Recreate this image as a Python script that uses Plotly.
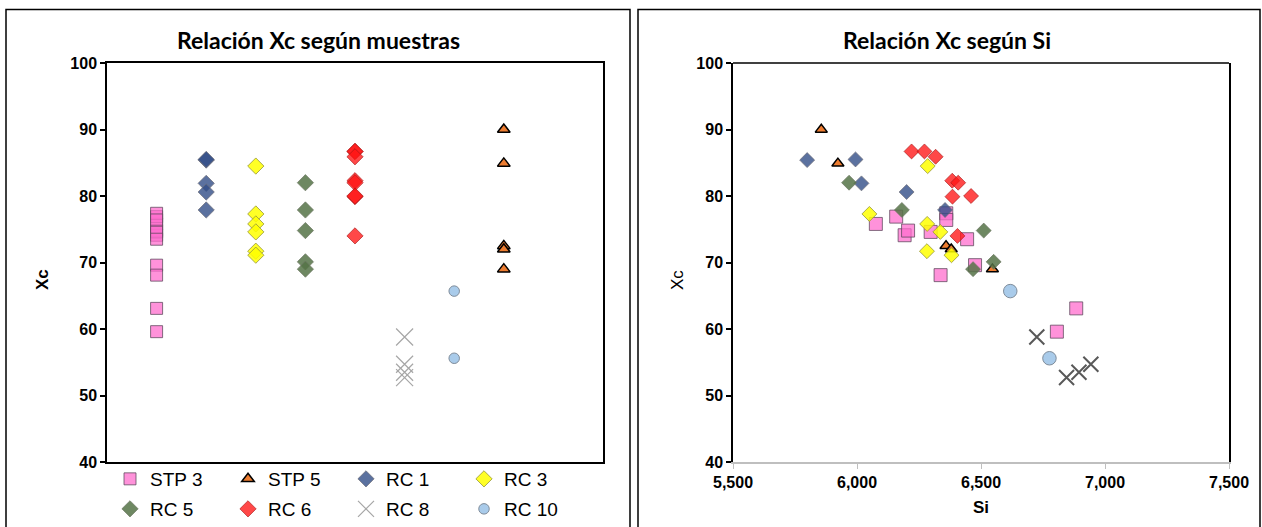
import plotly.graph_objects as go

W, H = 1262, 527

# ---- data ----
series = ["STP 3", "STP 5", "RC 1", "RC 3", "RC 5", "RC 6", "RC 8", "RC 10"]
sample_pos = [1, 8, 2, 3, 4, 5, 6, 7]   # position of each sample on the left chart

stp3_si = [6076, 6158, 6192, 6206, 6297, 6360, 6360, 6444, 6476, 6337, 6884, 6806]
stp3_xc = [75.8, 76.9, 74.1, 74.8, 74.6, 77.4, 76.4, 73.5, 69.6, 68.1, 63.1, 59.6]
stp5_si = [5856, 5923, 6359, 6380, 6546]
stp5_xc = [90.0, 84.9, 72.5, 72.0, 69.0]
rc1_si = [5799, 5994, 6018, 6200, 6355]
rc1_xc = [85.4, 85.5, 81.9, 80.6, 77.9]
rc3_si = [6285, 6050, 6283, 6336, 6282, 6381]
rc3_xc = [84.5, 77.3, 75.8, 74.6, 71.7, 71.1]
rc5_si = [5968, 6181, 6511, 6551, 6468]
rc5_xc = [82.0, 77.9, 74.8, 70.1, 69.0]
rc6_si = [6220, 6272, 6317, 6384, 6408, 6385, 6460, 6405]
rc6_xc = [86.7, 86.7, 85.9, 82.3, 82.0, 79.9, 80.0, 74.0]
rc8_si = [6725, 6845, 6895, 6943]
rc8_xc = [58.8, 52.7, 53.5, 54.7]
rc10_si = [6618, 6776]
rc10_xc = [65.7, 55.6]

si_vals = [stp3_si, stp5_si, rc1_si, rc3_si, rc5_si, rc6_si, rc8_si, rc10_si]
xc_vals = [stp3_xc, stp5_xc, rc1_xc, rc3_xc, rc5_xc, rc6_xc, rc8_xc, rc10_xc]

y_ticks = [40, 50, 60, 70, 80, 90, 100]
si_ticks = [5500, 6000, 6500, 7000, 7500]

# ---- styles ----
styles = {
    "STP 3": dict(symbol="square", color="rgba(255,110,205,0.75)", line="rgba(90,70,90,0.75)", lw=1, sl=12, sr=13),
    "STP 5": dict(symbol="triangle-up", color="#ED7D31", line="#000000", lw=1.5, sl=11, sr=10.5),
    "RC 1": dict(symbol="diamond", color="rgba(50,78,135,0.8)", line="rgba(110,110,120,0.7)", lw=1, sl=12.5, sr=11.5),
    "RC 3": dict(symbol="diamond", color="rgba(255,255,0,0.85)", line="rgba(150,150,60,0.8)", lw=1, sl=12.5, sr=11.5),
    "RC 5": dict(symbol="diamond", color="rgba(85,115,70,0.85)", line="rgba(110,120,100,0.7)", lw=1, sl=12.5, sr=11.5),
    "RC 6": dict(symbol="diamond", color="rgba(255,20,20,0.78)", line="rgba(160,20,20,0.6)", lw=1, sl=12.5, sr=11.5),
    "RC 8": dict(symbol="x-thin-open", color="#A6A6A6", line="#A6A6A6", lw=1.2, sl=17, sr=15),
    "RC 10": dict(symbol="circle", color="#A9CBEA", line="#7F8C9A", lw=1, sl=10.5, sr=13.5),
}
rc8_right_color = "#595959"

fig = go.Figure()

for i, name in enumerate(series):
    st = styles[name]
    legend_id = "legend" if i < 4 else "legend2"
    fig.add_trace(go.Scatter(
        x=[sample_pos[i]] * len(xc_vals[i]), y=xc_vals[i], mode="markers", name=name,
        xaxis="x", yaxis="y", legend=legend_id, showlegend=True,
        marker=dict(symbol=st["symbol"], size=st["sl"], color=st["color"],
                    line=dict(color=st["line"], width=st["lw"])),
    ))

for i, name in enumerate(series):
    st = styles[name]
    col = st["color"]
    lcol = st["line"]
    lw = st["lw"]
    if name == "RC 8":
        col = rc8_right_color
        lcol = rc8_right_color
        lw = 2
    fig.add_trace(go.Scatter(
        x=si_vals[i], y=xc_vals[i], mode="markers", name=name,
        xaxis="x2", yaxis="y2", showlegend=False,
        marker=dict(symbol=st["symbol"], size=st["sr"], color=col,
                    line=dict(color=lcol, width=lw)),
    ))

def px(x):
    return x / W

def py(y):
    return 1 - y / H

ARIAL = "Liberation Sans, Arial, sans-serif"
ydom = [py(462), py(63)]
tickfont = dict(family=ARIAL, size=16, color="#000000", weight="bold")
legfont = dict(family=ARIAL, size=19, color="#000000")

fig.update_layout(
    width=W, height=H,
    margin=dict(l=0, r=0, t=0, b=0, pad=0, autoexpand=False),
    paper_bgcolor="white", plot_bgcolor="white",
    xaxis=dict(domain=[px(107), px(603)], range=[0, 10], showticklabels=False,
               showgrid=False, zeroline=False, showline=True, linecolor="#000000",
               linewidth=1.5, mirror=True, ticks="", automargin=False),
    yaxis=dict(domain=ydom, range=[40, 100], tickvals=y_ticks, showgrid=False,
               zeroline=False, showline=True, linecolor="#000000", linewidth=1.5,
               mirror=True, ticks="outside", ticklen=5, tickcolor="#000000",
               tickwidth=1.5, tickfont=tickfont, anchor="x", automargin=False),
    xaxis2=dict(domain=[px(733), px(1229)], range=[5500, 7500], tickvals=si_ticks,
                tickformat=",", showgrid=False, zeroline=False, showline=True,
                linecolor="#BFBFBF", linewidth=1.5, mirror=False, ticks="outside",
                ticklen=5, tickcolor="#BFBFBF", tickwidth=1.2, tickfont=tickfont,
                anchor="y2", automargin=False),
    yaxis2=dict(domain=ydom, range=[40, 100], tickvals=y_ticks, showgrid=False,
                zeroline=False, showline=True, linecolor="#000000", linewidth=1.5,
                mirror=True, ticks="outside", ticklen=5, tickcolor="#000000",
                tickwidth=1.5, tickfont=tickfont, anchor="x2", automargin=False),
    legend=dict(orientation="h", x=px(110), xanchor="left", y=py(479), yanchor="middle",
                entrywidth=73, entrywidthmode="pixels", itemwidth=30,
                font=legfont, bgcolor="rgba(0,0,0,0)", tracegroupgap=0, itemclick=False),
    legend2=dict(orientation="h", x=px(110), xanchor="left", y=py(509), yanchor="middle",
                 entrywidth=73, entrywidthmode="pixels", itemwidth=30,
                 font=legfont, bgcolor="rgba(0,0,0,0)", tracegroupgap=0, itemclick=False),
    shapes=[
        dict(type="rect", xref="paper", yref="paper", x0=px(6), x1=px(630), y0=-0.05, y1=py(9.5),
             line=dict(color="#000000", width=1.5), fillcolor="rgba(0,0,0,0)", layer="below"),
        dict(type="rect", xref="paper", yref="paper", x0=px(638), x1=px(1260), y0=-0.05, y1=py(9.5),
             line=dict(color="#000000", width=1.5), fillcolor="rgba(0,0,0,0)", layer="below"),
        dict(type="line", xref="paper", yref="paper", x0=px(733), x1=px(1229), y0=py(63), y1=py(63),
             line=dict(color="#000000", width=1.5)),
    ],
    annotations=[
        dict(text="<b>Relación Xc según muestras</b>", xref="paper", yref="paper",
             x=px(318), y=py(40), xanchor="center", yanchor="middle", showarrow=False,
             font=dict(family="Lato, Carlito, sans-serif", size=23, color="#000000")),
        dict(text="<b>Relación Xc según Si</b>", xref="paper", yref="paper",
             x=px(947), y=py(40), xanchor="center", yanchor="middle", showarrow=False,
             font=dict(family="Lato, Carlito, sans-serif", size=23, color="#000000")),
        dict(text="<b>Xc</b>", xref="paper", yref="paper", x=px(42), y=py(280),
             xanchor="center", yanchor="middle", showarrow=False, textangle=-90,
             font=dict(family=ARIAL, size=17, color="#000000")),
        dict(text="Xc", xref="paper", yref="paper", x=px(677), y=py(280),
             xanchor="center", yanchor="middle", showarrow=False, textangle=-90,
             font=dict(family=ARIAL, size=17, color="#000000")),
        dict(text="<b>Si</b>", xref="paper", yref="paper", x=px(981), y=py(507),
             xanchor="center", yanchor="middle", showarrow=False,
             font=dict(family=ARIAL, size=17, color="#000000")),
    ],
)

fig.write_html(
    "out.html",
    config={"displayModeBar": False},
    post_script="document.body.style.margin='0px';document.body.style.overflow='hidden';",
)
